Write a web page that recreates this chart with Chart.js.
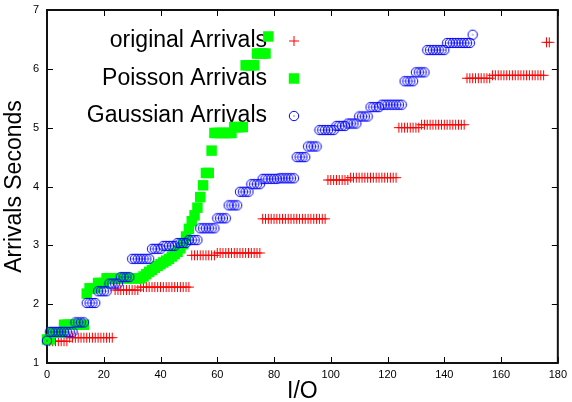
<!DOCTYPE html>
<html>
<head>
<meta charset="utf-8">
<script src="https://cdn.jsdelivr.net/npm/chart.js@4/dist/chart.umd.min.js"></script>
<style>
  body { margin: 0; background: #fff; }
</style>
</head>
<body>
<canvas id="arrivalsChart" width="572" height="402"></canvas>
<script>
const FONT = '"Liberation Sans", Arial, sans-serif';

const xTickValues = [0, 20, 40, 60, 80, 100, 120, 140, 160, 180];
const yTickValues = [1, 2, 3, 4, 5, 6, 7];

const seriesLabels = ['original Arrivals', 'Poisson Arrivals', 'Gaussian Arrivals'];

// arrival time (s) for each I/O, index = I/O number
const originalArrivals = [
  1.37, 1.37, 1.37, 1.37, 1.37, 1.37, 1.37, 1.37,
  1.43, 1.43, 1.43, 1.43, 1.43, 1.43, 1.43, 1.43, 1.43, 1.43, 1.43, 1.43, 1.43, 1.43, 1.43, 1.43,
  2.24, 2.24, 2.24, 2.24, 2.24, 2.24, 2.24, 2.24, 2.24,
  2.29, 2.29, 2.29, 2.29, 2.29, 2.29, 2.29, 2.29, 2.29, 2.29, 2.29, 2.29, 2.29, 2.29, 2.29, 2.29, 2.29, 2.29,
  2.83, 2.83, 2.83, 2.83, 2.83, 2.83, 2.83, 2.83, 2.83,
  2.87, 2.87, 2.87, 2.87, 2.87, 2.87, 2.87, 2.87, 2.87, 2.87, 2.87, 2.87, 2.87, 2.87, 2.87, 2.87,
  3.45, 3.45, 3.45, 3.45, 3.45, 3.45, 3.45, 3.45, 3.45, 3.45, 3.45, 3.45, 3.45, 3.45, 3.45, 3.45,
  3.45, 3.45, 3.45, 3.45, 3.45, 3.45, 3.45,
  4.11, 4.11, 4.11, 4.11, 4.11, 4.11, 4.11, 4.11,
  4.15, 4.15, 4.15, 4.15, 4.15, 4.15, 4.15, 4.15, 4.15, 4.15, 4.15, 4.15, 4.15, 4.15, 4.15, 4.15, 4.15,
  5.00, 5.00, 5.00, 5.00, 5.00, 5.00, 5.00, 5.00,
  5.05, 5.05, 5.05, 5.05, 5.05, 5.05, 5.05, 5.05, 5.05, 5.05, 5.05, 5.05, 5.05, 5.05, 5.05, 5.05,
  5.84, 5.84, 5.84, 5.84, 5.84, 5.84, 5.84, 5.84, 5.84,
  5.89, 5.89, 5.89, 5.89, 5.89, 5.89, 5.89, 5.89, 5.89, 5.89, 5.89, 5.89, 5.89, 5.89, 5.89, 5.89,
  5.89, 5.89, 5.89,
  6.45, 6.45
];

const poissonArrivals = [
  1.40, 1.40,
  1.52, 1.52, 1.52, 1.52,
  1.65, 1.65, 1.65, 1.65, 1.65, 1.65, 1.65, 1.65,
  2.18,
  2.27, 2.27, 2.27,
  2.36, 2.36, 2.36,
  2.44, 2.44, 2.44, 2.44, 2.44, 2.44, 2.44, 2.44, 2.44, 2.44, 2.44, 2.44, 2.44,
  2.47, 2.51, 2.55, 2.58, 2.62, 2.65, 2.68, 2.71, 2.74, 2.77, 2.81, 2.85, 2.89, 2.95, 3.02,
  3.15, 3.28, 3.41, 3.51, 3.64, 3.82, 4.02, 4.23, 4.23, 4.61,
  4.91, 4.91, 4.91, 4.91, 4.91, 4.91, 4.91,
  5.01, 5.01, 5.01, 5.01,
  6.06, 6.06, 6.06, 6.06,
  6.26, 6.26, 6.26, 6.26,
  6.55
];

const gaussianArrivals = [
  1.38,
  1.53, 1.53, 1.53, 1.53, 1.53, 1.53, 1.53, 1.53, 1.53,
  1.69, 1.69, 1.69, 1.69,
  2.02, 2.02, 2.02, 2.02,
  2.22, 2.22, 2.22, 2.22,
  2.35, 2.35, 2.35, 2.35,
  2.46, 2.46, 2.46, 2.46,
  2.77, 2.77, 2.77, 2.77, 2.77, 2.77, 2.77,
  2.94, 2.94, 2.94, 2.94,
  2.99, 2.99, 2.99, 2.99, 2.99,
  3.04, 3.04, 3.04, 3.04,
  3.09, 3.09, 3.09, 3.09,
  3.29, 3.29, 3.29, 3.29, 3.29, 3.29,
  3.46, 3.46, 3.46, 3.46,
  3.68, 3.68, 3.68, 3.68,
  3.91, 3.91, 3.91, 3.91,
  4.04, 4.04, 4.04, 4.04,
  4.13, 4.13, 4.13, 4.13, 4.13, 4.13, 4.14, 4.14, 4.14, 4.14, 4.14, 4.14,
  4.50, 4.50, 4.50, 4.50,
  4.68, 4.68, 4.68, 4.68,
  4.96, 4.96, 4.96, 4.96, 4.96, 4.96,
  5.03, 5.03, 5.03, 5.03,
  5.07, 5.07, 5.07, 5.07,
  5.19, 5.19, 5.19, 5.19,
  5.35, 5.35, 5.35, 5.35,
  5.39, 5.39, 5.39, 5.39, 5.39, 5.39, 5.39, 5.39,
  5.79, 5.79, 5.79, 5.79,
  5.94, 5.94, 5.94, 5.94,
  6.32, 6.32, 6.32, 6.32, 6.32, 6.32, 6.32,
  6.44, 6.44, 6.44, 6.44, 6.44, 6.44, 6.44, 6.44, 6.44,
  6.58
];

const toPoints = arr => arr.map((v, i) => ({ x: i, y: v }));

// gnuplot style open circle with a dot in the middle
const circleDot = document.createElement('canvas');
circleDot.width = 12;
circleDot.height = 12;
(() => {
  const c = circleDot.getContext('2d');
  c.strokeStyle = '#0000ff';
  c.fillStyle = '#0000ff';
  c.lineWidth = 1;
  c.beginPath();
  c.arc(6, 6, 4.7, 0, Math.PI * 2);
  c.stroke();
  c.fillRect(5.5, 5.5, 1, 1);
})();

// border with inward ticks on all four sides
const frame = {
  id: 'frame',
  beforeDatasetsDraw(chart) {
    const { ctx, chartArea: a, scales: { x, y } } = chart;
    ctx.save();
    ctx.strokeStyle = '#000';
    ctx.lineWidth = 1;
    ctx.beginPath();
    xTickValues.forEach(v => {
      const px = Math.round(x.getPixelForValue(v)) + 0.5;
      ctx.moveTo(px, a.bottom); ctx.lineTo(px, a.bottom - 6);
      ctx.moveTo(px, a.top); ctx.lineTo(px, a.top + 6);
    });
    yTickValues.forEach(v => {
      const py = Math.round(y.getPixelForValue(v)) + 0.5;
      ctx.moveTo(a.left, py); ctx.lineTo(a.left + 6, py);
      ctx.moveTo(a.right, py); ctx.lineTo(a.right - 6, py);
    });
    ctx.stroke();
    ctx.lineWidth = 2;
    ctx.strokeStyle = '#111';
    ctx.strokeRect(a.left, a.top, a.right - a.left, a.bottom - a.top);
    ctx.restore();
  }
};

// key inside the plot, text right aligned, sample to the right
const key = {
  id: 'key',
  beforeDatasetsDraw(chart) {
    const { ctx, chartArea: a } = chart;
    ctx.save();
    ctx.font = '23px ' + FONT;
    ctx.textAlign = 'right';
    ctx.textBaseline = 'middle';
    chart.data.datasets.forEach((ds, i) => {
      const yy = a.top + 31 + i * 37.5;
      ctx.fillStyle = '#000';
      ctx.fillText(ds.label, a.left + 220, yy);
      ctx.fillStyle = ds.pointBackgroundColor;
      ctx.strokeStyle = ds.pointBorderColor;
      ctx.lineWidth = ds.pointBorderWidth;
      Chart.helpers.drawPoint(ctx, {
        pointStyle: ds.pointStyle,
        radius: ds.pointRadius,
        borderWidth: ds.pointBorderWidth,
        rotation: 0
      }, a.left + 247, yy);
    });
    ctx.restore();
  }
};

const ctx = document.getElementById('arrivalsChart').getContext('2d');
const arrivalsChart = new Chart(ctx, {
  type: 'scatter',
  data: {
    datasets: [{
      label: seriesLabels[0],
      data: toPoints(originalArrivals),
      pointStyle: 'cross',
      pointRadius: 5,
      pointBorderWidth: 1,
      pointBorderColor: '#ff0000',
      pointBackgroundColor: '#ff0000',
      order: 3,
      clip: false
    }, {
      label: seriesLabels[1],
      data: toPoints(poissonArrivals),
      pointStyle: 'rect',
      pointRadius: 7.4,
      pointBorderWidth: 0,
      pointBorderColor: '#00ff00',
      pointBackgroundColor: '#00ff00',
      order: 2,
      clip: false
    }, {
      label: seriesLabels[2],
      data: toPoints(gaussianArrivals),
      pointStyle: circleDot,
      pointRadius: 5,
      pointBorderWidth: 1,
      pointBorderColor: '#0000ff',
      pointBackgroundColor: 'rgba(0,0,0,0)',
      order: 1,
      clip: false
    }]
  },
  options: {
    responsive: false,
    animation: false,
    events: [],
    layout: { autoPadding: false, padding: { top: 10, right: 11, left: 0, bottom: 0 } },
    plugins: {
      legend: { display: false },
      tooltip: { enabled: false }
    },
    scales: {
      x: {
        type: 'linear',
        min: 0,
        max: 180,
        afterBuildTicks: s => { s.ticks = xTickValues.map(v => ({ value: v })); },
        afterFit: s => { s.height = 39; },
        grid: { display: false, drawTicks: false },
        border: { display: false },
        ticks: { padding: 5, color: '#000', font: { family: FONT, size: 11 } },
        title: {
          display: true,
          text: 'I/O',
          color: '#000',
          font: { family: FONT, size: 23, lineHeight: 0.9 },
          padding: { top: 0, bottom: 0 }
        }
      },
      y: {
        type: 'linear',
        min: 1,
        max: 7,
        afterBuildTicks: s => { s.ticks = yTickValues.map(v => ({ value: v })); },
        afterFit: s => { s.width = 47; s.paddingTop = 7; s.paddingBottom = 7; },
        grid: { display: false, drawTicks: false },
        border: { display: false },
        ticks: { padding: 8, color: '#000', font: { family: FONT, size: 11 } },
        title: {
          display: true,
          text: 'Arrivals Seconds',
          color: '#000',
          font: { family: FONT, size: 23, lineHeight: 1 },
          padding: { top: 3, bottom: 0 }
        }
      }
    }
  },
  plugins: [frame, key]
});
</script>
</body>
</html>
